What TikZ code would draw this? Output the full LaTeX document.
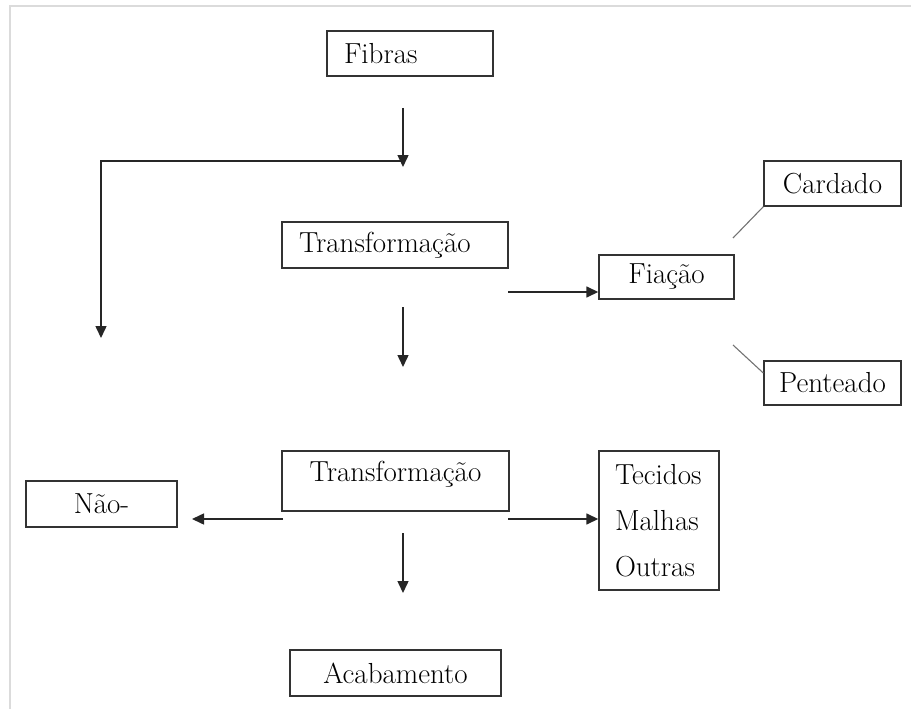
\documentclass[tikz,border=0pt]{standalone}
\usepackage{fontspec}
\usepackage{tikz}
\usetikzlibrary{positioning, arrows.meta}

\begin{document}
\begin{tikzpicture}[auto, x=1pt, y=-1pt, >={Triangle[length=12pt, width=11pt]},
    caixa/.style={draw=black!80, rectangle, line width=1.4pt, inner sep=0pt, font=\fontsize{29}{34}\selectfont},
    seta/.style={->, line width=1.5pt, black!85}]
    \useasboundingbox (0,0) rectangle (911,709);
    \draw [black!14, line width=2.5pt] (10,709) -- (10,6) -- (911,6);

    \node [caixa, minimum width=166pt, minimum height=45pt, text width=132pt, align=left] (fib) at (410,53.5) {Fibras};
    \node [caixa, minimum width=226pt, minimum height=46pt, text width=192pt, align=left] (tr1) at (395,245) {Transformação};
    \node [caixa, minimum width=135pt, minimum height=44pt] (fia) at (666.5,277) {Fiação};
    \node [caixa, minimum width=137pt, minimum height=45pt] (car) at (832.5,183.5) {Cardado};
    \node [caixa, minimum width=137pt, minimum height=44pt] (pen) at (832.5,383) {Penteado};
    \node [caixa, minimum width=227pt, minimum height=60pt, text height=19pt, text depth=19pt] (tr2) at (395.5,481) {Transformação};
    \node [caixa, minimum width=151pt, minimum height=46pt] (nao) at (101.5,504) {Não-};
    \node [caixa, minimum width=120pt, minimum height=139pt, text width=88pt, align=left, font=\fontsize{29}{46}\selectfont] (tec) at (659,520.5) {Tecidos\\Malhas\\Outras};
    \node [caixa, minimum width=211pt, minimum height=46pt] (aca) at (395.5,673) {Acabamento};

    % pontas soltas das setas
    \coordinate (fibout) at (403,108);
    \coordinate (fibin) at (403,167);
    \coordinate (ramo) at (403,161);
    \coordinate (esq) at (101,338);
    \coordinate (tr1out) at (508,292);
    \coordinate (tr1down) at (403,307);
    \coordinate (tr2in) at (403,367);
    \coordinate (fiaup) at (733,238);
    \coordinate (fiadown) at (733,345);
    \coordinate (tr2esq) at (283,519);
    \coordinate (naoin) at (192,519);
    \coordinate (tr2dir) at (508,519);
    \coordinate (tr2down) at (403,533);
    \coordinate (acain) at (403,593);

    \draw [seta] (fibout) -- (fibin);
    \draw [seta] (ramo) -| (esq);
    \draw [seta] (tr1out) -- (tr1out -| fia.west);
    \draw [seta] (tr1down) -- (tr2in);
    \draw [black!55, line width=1.1pt] (fiaup) -- (car.south west);
    \draw [black!55, line width=1.1pt] (fiadown) -- ([yshift=10pt]pen.west);
    \draw [seta] (tr2esq) -- (naoin);
    \draw [seta] (tr2dir) -- (tr2dir -| tec.west);
    \draw [seta] (tr2down) -- (acain);
\end{tikzpicture}
\end{document}
